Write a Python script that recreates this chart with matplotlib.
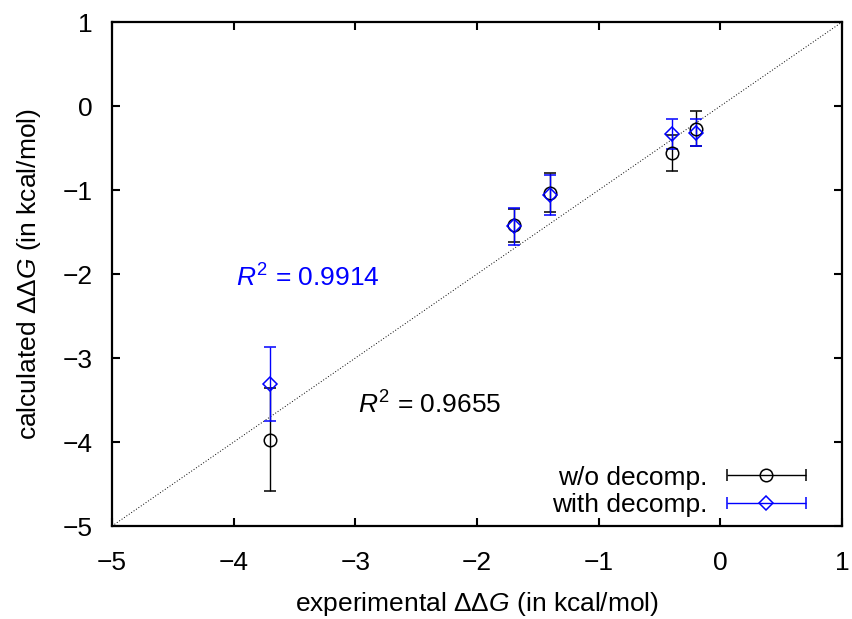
import numpy as np
import matplotlib
matplotlib.use('Agg')
import matplotlib.pyplot as plt
from matplotlib.container import ErrorbarContainer
from matplotlib.legend_handler import HandlerErrorbar

plt.rcParams['font.family'] = ['Liberation Sans', 'DejaVu Sans']
plt.rcParams['mathtext.fontset'] = 'custom'
plt.rcParams['mathtext.rm'] = 'Liberation Sans'
plt.rcParams['mathtext.it'] = 'Liberation Sans:italic'

# data (kcal/mol)
exp_ddg = [-3.7, -1.7, -1.4, -0.4, -0.2]
wo_decomp = [-3.97, -1.42, -1.03, -0.56, -0.27]
wo_err = [0.61, 0.2, 0.23, 0.21, 0.21]
with_decomp = [-3.31, -1.43, -1.06, -0.33, -0.32]
with_err = [0.44, 0.22, 0.24, 0.18, 0.16]

ticks = [-5, -4, -3, -2, -1, 0, 1]
blue = '#0000ff'
fs = 19

fig = plt.figure(figsize=(8.52, 6.19), dpi=100)
ax = fig.add_axes([0.1315, 0.1502, 0.8568, 0.8142])

ax.plot([-5, 1], [-5, 1], color='black', linestyle=(0, (1, 2)), linewidth=0.7)

ax.errorbar(exp_ddg, wo_decomp, yerr=wo_err, fmt='o', mfc='none', mec='black',
            ms=9, mew=1.1, ecolor='black', elinewidth=1.0, capsize=4, capthick=1.2)
ax.errorbar(exp_ddg, with_decomp, yerr=with_err, fmt='D', mfc='none', mec=blue,
            ms=7, mew=1.1, ecolor=blue, elinewidth=1.0, capsize=4, capthick=1.2)

# legend samples drawn as horizontal error bars (gnuplot style)
h1 = ax.errorbar([np.nan], [np.nan], xerr=[1], fmt='o', mfc='none', mec='black',
                 ms=9, mew=1.1, ecolor='black', elinewidth=1.0, capsize=4)
h2 = ax.errorbar([np.nan], [np.nan], xerr=[1], fmt='D', mfc='none', mec=blue,
                 ms=7, mew=1.1, ecolor=blue, elinewidth=1.0, capsize=4)
ax.legend([h1, h2], ['w/o decomp.', 'with decomp.'], loc='lower right',
          bbox_to_anchor=(0.965, -0.004),
          frameon=False, markerfirst=False, fontsize=fs, handlelength=3.0,
          handletextpad=0.75, labelspacing=0.15, borderaxespad=0.0, borderpad=0.4,
          handler_map={ErrorbarContainer: HandlerErrorbar(xerr_size=1.5)})

ax.text(-3.98, -2.05, r'$R^2$ = 0.9914', color=blue, fontsize=fs, va='center')
ax.text(-2.98, -3.56, r'$R^2$ = 0.9655', color='black', fontsize=fs, va='center')

ax.set_xlim(-5, 1)
ax.set_ylim(-5, 1)
ax.set_xticks(ticks)
ax.set_yticks(ticks)
ax.set_xticklabels(['\u2212%d' % -t if t < 0 else str(t) for t in ticks])
ax.set_yticklabels(['\u2212%d' % -t if t < 0 else str(t) for t in ticks])
ax.tick_params(direction='in', length=6, width=1.5, labelsize=fs,
               top=True, right=True, pad=14)
ax.tick_params(axis='x', pad=18)
for s in ax.spines.values():
    s.set_linewidth(1.6)

ax.set_xlabel(r'experimental $\Delta\Delta G$ (in kcal/mol)', fontsize=fs, labelpad=11)
ax.set_ylabel(r'calculated $\Delta\Delta G$ (in kcal/mol)', fontsize=fs, labelpad=14)

fig.savefig('out.png', dpi=100)
